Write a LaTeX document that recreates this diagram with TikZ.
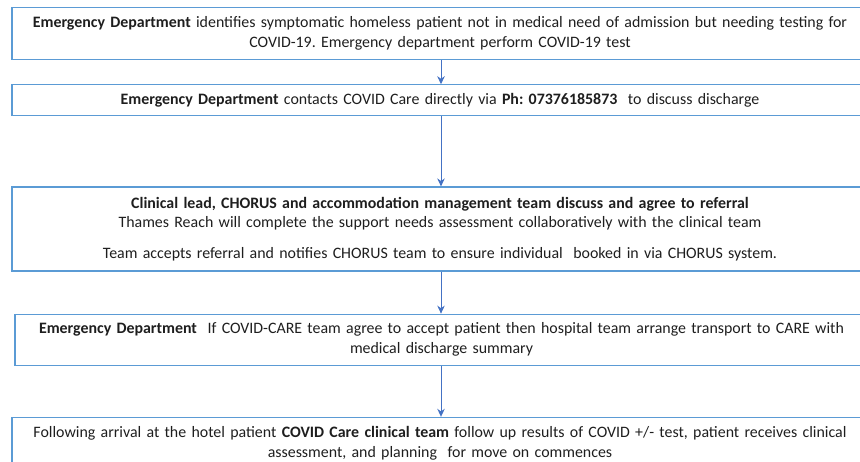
\documentclass[tikz,border=0pt]{standalone}
\usepackage{fontspec}
\setmainfont{Carlito}
\frenchspacing
\usetikzlibrary{arrows.meta}
\usetikzlibrary{positioning}
\definecolor{boxblue}{RGB}{91,155,213}
\definecolor{arrowblue}{RGB}{68,114,196}
\definecolor{textgrey}{RGB}{30,30,30}
\tikzstyle{step box} = [rectangle, draw=boxblue, line width=1.2pt, text width=840pt, inner xsep=8pt, inner ysep=2pt, align=center, text=textgrey, font=\fontsize{15.9}{19.8}\selectfont]
\tikzstyle{arrow} = [-{Stealth[length=8pt, width=7.5pt]}, draw=arrowblue, fill=arrowblue, line width=0.9pt]

\begin{document}
\begin{tikzpicture}[x=1pt, y=-1pt]
  \clip (0,0) rectangle (860,461);
  \useasboundingbox (0,0) rectangle (860,461);

  % ED finds patient
  \node [step box, minimum height=52pt, anchor=north] (edtest) at (440,7)
    {\textbf{Emergency Department} identifies symptomatic homeless patient not in medical need of admission but needing testing for\\ COVID-19. Emergency department perform COVID-19 test};

  % call to COVID Care
  \node [step box, minimum height=31pt, below=24pt of edtest] (edcall)
    {\textbf{Emergency Department} contacts COVID Care directly via \textbf{Ph: 07376185873} \ to discuss discharge};

  % referral
  \node [step box, minimum height=84pt, below=70pt of edcall] (referral)
    {\textbf{Clinical lead, CHORUS and accommodation management team discuss and agree to referral}\\
     Thames Reach will complete the support needs assessment collaboratively with the clinical team\\[11pt]
     Team accepts referral and notifies CHORUS team to ensure individual \ booked in via CHORUS system.};

  % transport
  \node [step box, minimum height=51pt, below=42pt of referral, xshift=1.5pt, text width=837pt] (transport)
    {\textbf{Emergency Department} \ If COVID-CARE team agree to accept patient then hospital team arrange transport to CARE with\\ medical discharge summary};

  % arrival at hotel
  \node [step box, minimum height=52pt, below=51pt of transport, xshift=-1.5pt, text width=840pt] (arrival)
    {Following arrival at the hotel patient \textbf{COVID Care clinical team} follow up results of COVID +/- test, patient receives clinical\\ assessment, and planning \ for move on commences};

  % arrows
  \draw [arrow] ([xshift=1pt]edtest.south) -- ([xshift=1pt]edcall.north);
  \draw [arrow] ([xshift=1pt]edcall.south) -- ([xshift=1pt]referral.north);
  \draw [arrow] ([xshift=1pt]referral.south) -- ([xshift=-0.5pt]transport.north);
  \draw [arrow] ([xshift=-0.5pt]transport.south) -- ([xshift=1pt]arrival.north);
\end{tikzpicture}
\end{document}
